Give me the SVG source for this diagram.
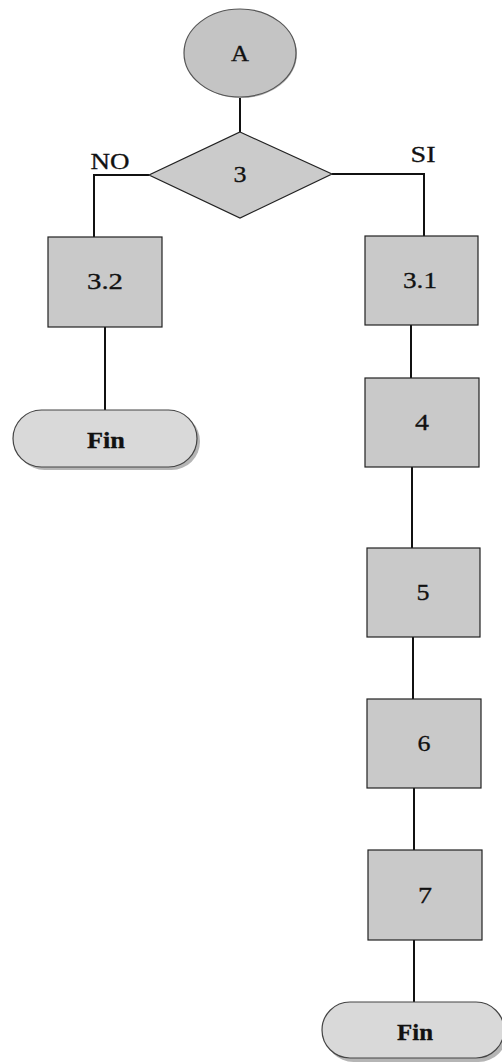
<svg xmlns="http://www.w3.org/2000/svg" width="502" height="1062" viewBox="0 0 502 1062">
<style>
.box{fill:#c9c9c9;stroke:#222;stroke-width:1.2}
.term{fill:#d9d9d9;stroke:#444;stroke-width:1.2}
.shadow{fill:#b5b5b5}
.t{font-family:"Liberation Serif","Times New Roman",serif;font-size:23px;fill:#111;stroke:#111;stroke-width:0.3;text-anchor:middle}
.b{font-weight:bold}
.c{fill:none;stroke:#111;stroke-width:2}
</style>
<rect width="502" height="1062" fill="#fff"/>
<g id="connectors">
<path class="c" d="M240 97V132"/>
<path class="c" d="M149 175H94V237"/>
<path class="c" d="M332 174H424V236"/>
<path class="c" d="M105 327V410"/>
<path class="c" d="M411 325V378"/>
<path class="c" d="M412 467V548"/>
<path class="c" d="M413 637V699"/>
<path class="c" d="M414 788V850"/>
<path class="c" d="M414 940V1002"/>
</g>
<g id="nodeA">
<ellipse cx="241" cy="54" rx="56" ry="44" class="shadow"/>
<ellipse cx="240" cy="53" rx="56" ry="44" fill="#c4c4c4" stroke="#555" stroke-width="1.2"/>
<text class="t" x="240" y="61" textLength="18" lengthAdjust="spacingAndGlyphs">A</text>
</g>
<g id="node3">
<polygon points="240,132 332,174 240,218 149,175" fill="#cbcbcb" stroke="#222" stroke-width="1.2"/>
<text class="t" x="240" y="182" textLength="13" lengthAdjust="spacingAndGlyphs">3</text>
</g>
<g id="labelNO"><text class="t" x="110" y="169" textLength="39" lengthAdjust="spacingAndGlyphs">NO</text></g>
<g id="labelSI"><text class="t" x="423" y="162" textLength="25" lengthAdjust="spacingAndGlyphs">SI</text></g>
<g id="node3_2">
<rect class="box" x="48" y="237" width="114" height="90"/>
<text class="t" x="105" y="289" textLength="36" lengthAdjust="spacingAndGlyphs">3.2</text>
</g>
<g id="node3_1">
<rect class="box" x="365" y="236" width="113" height="89"/>
<text class="t" x="420" y="288" textLength="34" lengthAdjust="spacingAndGlyphs">3.1</text>
</g>
<g id="finLeft">
<rect class="shadow" x="16" y="413" width="184" height="57" rx="28.5"/>
<rect class="term" x="13" y="410" width="184" height="57" rx="28.5"/>
<text class="t b" x="106" y="448" textLength="38" lengthAdjust="spacingAndGlyphs">Fin</text>
</g>
<g id="node4">
<rect class="box" x="365" y="378" width="114" height="89"/>
<text class="t" x="422" y="430" textLength="14" lengthAdjust="spacingAndGlyphs">4</text>
</g>
<g id="node5">
<rect class="box" x="367" y="548" width="113" height="89"/>
<text class="t" x="423" y="600" textLength="13" lengthAdjust="spacingAndGlyphs">5</text>
</g>
<g id="node6">
<rect class="box" x="367" y="699" width="114" height="89"/>
<text class="t" x="424" y="751" textLength="13" lengthAdjust="spacingAndGlyphs">6</text>
</g>
<g id="node7">
<rect class="box" x="368" y="850" width="114" height="90"/>
<text class="t" x="425" y="903" textLength="14" lengthAdjust="spacingAndGlyphs">7</text>
</g>
<g id="finBottom">
<rect class="shadow" x="325" y="1005" width="182" height="57" rx="28.5"/>
<rect class="term" x="322" y="1002" width="182" height="56" rx="28"/>
<text class="t b" x="415" y="1040" textLength="36" lengthAdjust="spacingAndGlyphs">Fin</text>
</g>
</svg>
